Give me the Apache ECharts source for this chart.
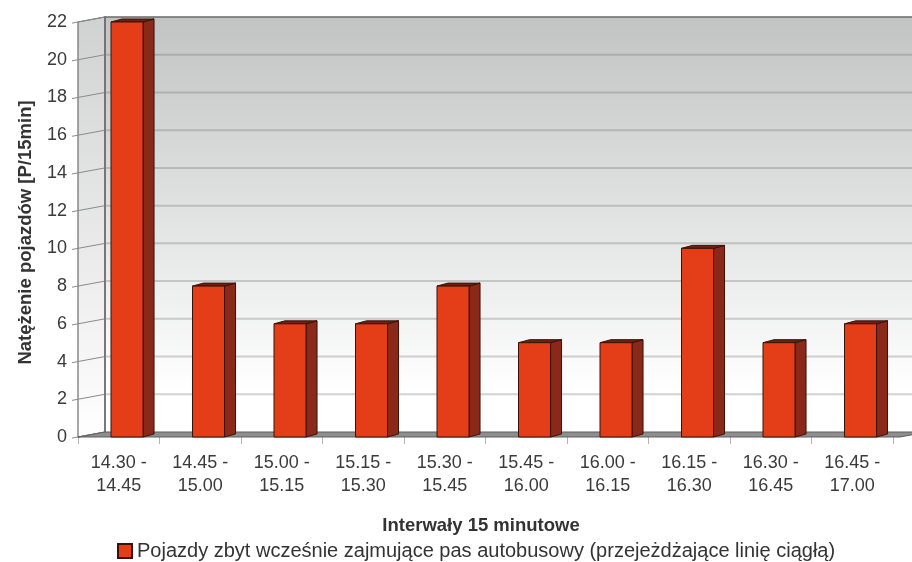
<!DOCTYPE html>
<html>
<head>
<meta charset="utf-8">
<script src="https://cdn.jsdelivr.net/npm/echarts@6/dist/echarts.min.js"></script>
<style>
  html, body { margin: 0; padding: 0; background: #ffffff; }
  #chart { width: 912px; height: 562px; }
</style>
</head>
<body>
<div id="chart"></div>
<script>
// Time intervals (15-minute slots)
const categories = [
  '14.30 -\n14.45', '14.45 -\n15.00', '15.00 -\n15.15', '15.15 -\n15.30', '15.30 -\n15.45',
  '15.45 -\n16.00', '16.00 -\n16.15', '16.15 -\n16.30', '16.30 -\n16.45', '16.45 -\n17.00'
];
// Vehicles per 15 min
const values = [22, 8, 6, 6, 8, 5, 5, 10, 5, 6];
const seriesName = 'Pojazdy zbyt wcześnie zajmujące pas autobusowy (przejeżdżające linię ciągłą)';
const xTitle = 'Interwały 15 minutowe';
const yTitle = 'Natężenie pojazdów [P/15min]';
const yMin = 0, yMax = 22, yStep = 2;

// depth of the 3D box (back wall offset) and of each bar, in pixels
const WALL_DX = 27, WALL_DY = -5;
const BAR_DX = 11, BAR_DY = -3;

const FONT = '"Liberation Sans", Arial, sans-serif';

const chart = echarts.init(document.getElementById('chart'), null, { renderer: 'canvas' });

// grey level of a back-wall grid line: darker near the top, lighter near the floor
function gridLineColor(t) {
  const top = [166, 168, 168], bottom = [214, 214, 214];
  const c = top.map((a, k) => Math.round(a + (bottom[k] - a) * t));
  return 'rgb(' + c.join(',') + ')';
}

function wallsRenderItem(params, api) {
  const cs = params.coordSys;
  const xl = cs.x;
  const xr = cs.x + cs.width;
  const yTop = api.coord([0, yMax])[1];
  const yBot = api.coord([0, yMin])[1];
  const farRight = xr + 7;
  const children = [];
  // back wall
  children.push({
    type: 'rect',
    shape: { x: xl + WALL_DX, y: yTop + WALL_DY, width: farRight - xl, height: yBot - yTop },
    style: {
      fill: new echarts.graphic.LinearGradient(0, 0, 0, 1, [
        { offset: 0, color: '#c2c4c4' },
        { offset: 0.55, color: '#e6e7e7' },
        { offset: 0.9, color: '#ffffff' },
        { offset: 1, color: '#ffffff' }
      ])
    }
  });
  // left wall
  children.push({
    type: 'polygon',
    shape: { points: [[xl, yTop], [xl + WALL_DX, yTop + WALL_DY], [xl + WALL_DX, yBot + WALL_DY], [xl, yBot]] },
    style: {
      fill: new echarts.graphic.LinearGradient(0, 0, 0, 1, [
        { offset: 0, color: '#d0d2d2' },
        { offset: 0.6, color: '#ececec' },
        { offset: 1, color: '#ffffff' }
      ]),
      stroke: '#6e6e6e', lineWidth: 1.2
    }
  });
  // grid lines on the back wall and the left wall
  for (let v = yMin; v <= yMax; v += yStep) {
    const y = api.coord([0, v])[1];
    if (v > yMin && v < yMax) {
      children.push({
        type: 'line',
        shape: { x1: xl + WALL_DX, y1: y + WALL_DY, x2: farRight + WALL_DX, y2: y + WALL_DY },
        style: { stroke: gridLineColor(1 - (v - yMin) / (yMax - yMin)), lineWidth: 2 }
      });
    }
    children.push({
      type: 'line',
      shape: { x1: xl - 6, y1: y + 1.1, x2: xl + WALL_DX, y2: y + WALL_DY },
      style: { stroke: '#8a8a8a', lineWidth: 1 }
    });
  }
  // back wall top edge and left edge
  children.push({
    type: 'polyline',
    shape: { points: [[xl + WALL_DX, yBot + WALL_DY], [xl + WALL_DX, yTop + WALL_DY], [farRight + WALL_DX, yTop + WALL_DY]] },
    style: { stroke: '#6a6a6a', lineWidth: 1.5, fill: null }
  });
  // floor
  children.push({
    type: 'polygon',
    shape: { points: [[xl, yBot], [xl + WALL_DX, yBot + WALL_DY], [farRight + WALL_DX, yBot + WALL_DY], [farRight, yBot]] },
    style: { fill: '#8e8e8e', stroke: '#5e5e5e', lineWidth: 1 }
  });
  return { type: 'group', children: children };
}

function barRenderItem(params, api) {
  const i = api.value(0);
  const v = api.value(1);
  const top = api.coord([i, v]);
  const base = api.coord([i, 0]);
  const band = api.size([1, 0])[0];
  const w = band * 0.393;
  const x0 = top[0] - band * 0.095;
  const x1 = x0 + w;
  const yt = top[1], yb = base[1];
  const edge = '#3a1208';
  return {
    type: 'group',
    children: [
      {
        type: 'polygon',
        shape: { points: [[x1, yt], [x1 + BAR_DX, yt + BAR_DY], [x1 + BAR_DX, yb + BAR_DY], [x1, yb]] },
        style: { fill: '#8a291a', stroke: edge, lineWidth: 1 }
      },
      {
        type: 'polygon',
        shape: { points: [[x0, yt], [x0 + BAR_DX, yt + BAR_DY], [x1 + BAR_DX, yt + BAR_DY], [x1, yt]] },
        style: { fill: '#6e2012', stroke: edge, lineWidth: 1 }
      },
      {
        type: 'rect',
        shape: { x: x0, y: yt, width: w, height: yb - yt },
        style: { fill: '#e43e18', stroke: edge, lineWidth: 1 }
      }
    ]
  };
}

chart.setOption({
  animation: false,
  backgroundColor: '#ffffff',
  textStyle: { fontFamily: FONT },
  grid: { left: 78, right: 19, top: 22, bottom: 125, containLabel: false },
  legend: {
    data: [seriesName],
    left: 117,
    top: 541,
    padding: 0,
    itemWidth: 14,
    itemHeight: 14,
    itemGap: 10,
    icon: 'rect',
    textStyle: { fontSize: 20, lineHeight: 20, color: '#333333', fontFamily: FONT },
    selectedMode: false
  },
  xAxis: {
    type: 'category',
    data: categories,
    boundaryGap: true,
    name: xTitle,
    nameLocation: 'middle',
    nameGap: 79,
    nameTextStyle: { fontSize: 18.5, fontWeight: 'bold', color: '#333333', fontFamily: FONT, padding: [0, 9, 0, 0] },
    axisLine: { show: false },
    axisTick: { show: true, length: 7, lineStyle: { color: '#b4b4b4', width: 1 } },
    axisLabel: { fontSize: 18, color: '#3a3a3a', margin: 15, lineHeight: 23, interval: 0, fontFamily: FONT },
    splitLine: { show: false }
  },
  yAxis: {
    type: 'value',
    min: yMin,
    max: yMax,
    interval: yStep,
    name: yTitle,
    nameLocation: 'middle',
    nameRotate: 90,
    nameGap: 43,
    nameTextStyle: { fontSize: 18.5, fontWeight: 'bold', color: '#333333', fontFamily: FONT, padding: [0, 6, 0, 0] },
    axisLine: { show: false },
    axisTick: { show: false },
    axisLabel: { fontSize: 18, color: '#3a3a3a', margin: 11, fontFamily: FONT },
    splitLine: { show: false }
  },
  series: [
    {
      type: 'custom',
      name: 'walls',
      silent: true,
      z: 1,
      renderItem: wallsRenderItem,
      data: [[0, 0]]
    },
    {
      type: 'custom',
      name: seriesName,
      z: 2,
      itemStyle: { color: '#e43e18', borderColor: '#3a1208', borderWidth: 1 },
      renderItem: barRenderItem,
      data: values.map((v, i) => [i, v])
    }
  ]
});
</script>
</body>
</html>
